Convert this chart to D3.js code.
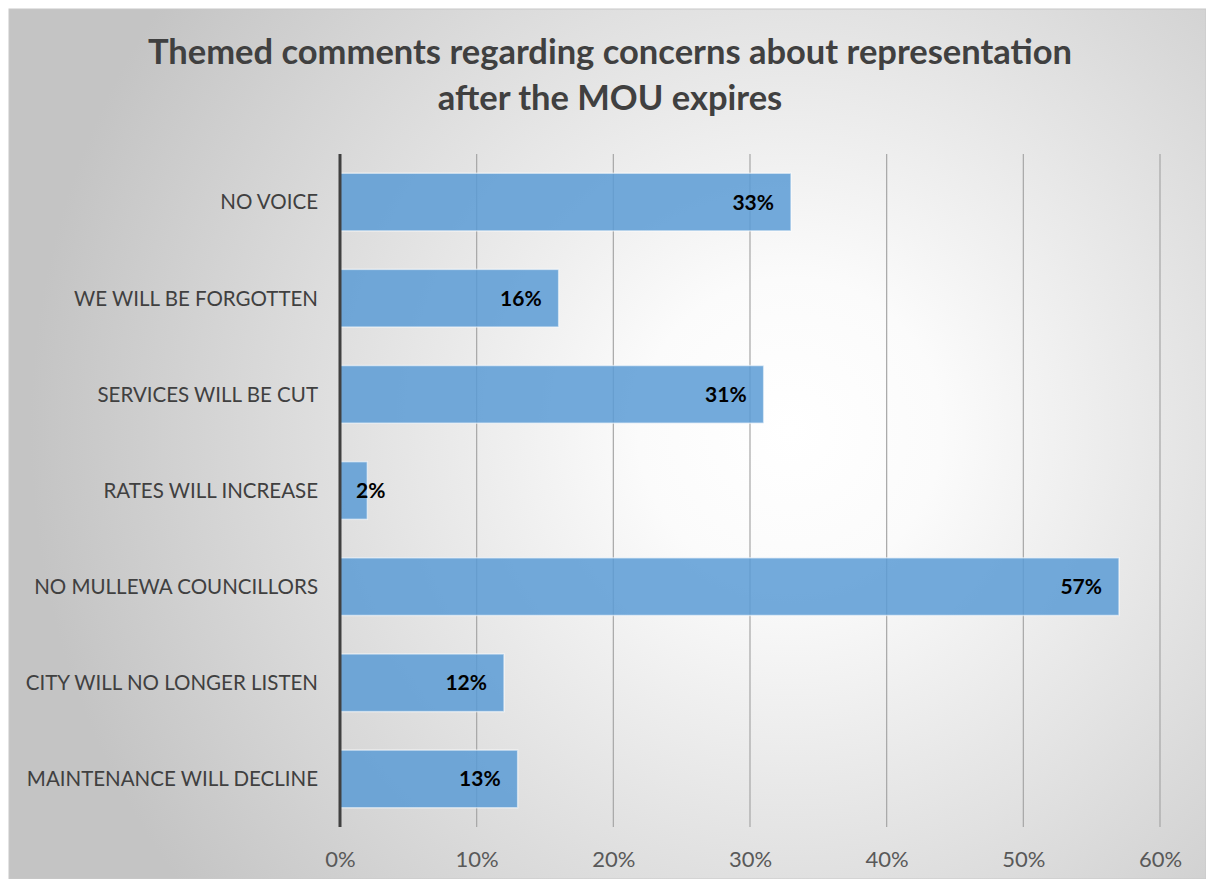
<!DOCTYPE html>
<html>
<head>
<meta charset="utf-8">
<script src="https://cdn.jsdelivr.net/npm/d3@7"></script>
<style>
  html, body { margin: 0; padding: 0; background: #ffffff; }
  svg { display: block; }
</style>
</head>
<body>
<div id="chart"></div>
<script>
// Chart data
const titleLines = ["Themed comments regarding concerns about representation", "after the MOU expires"];
const categories = [
  "NO VOICE",
  "WE WILL BE FORGOTTEN",
  "SERVICES WILL BE CUT",
  "RATES WILL INCREASE",
  "NO MULLEWA COUNCILLORS",
  "CITY WILL NO LONGER LISTEN",
  "MAINTENANCE WILL DECLINE"
];
const shares = [0.33, 0.16, 0.31, 0.02, 0.57, 0.12, 0.13];
const tickValues = [0, 0.1, 0.2, 0.3, 0.4, 0.5, 0.6];

const W = 1206, H = 879;
const frame = { x: 9, y: 9, w: 1206 - 9, h: 879 - 9 };
const plot = { left: 340, right: 1160, top: 154, bottom: 827 };
const fontFamily = "Lato, 'Open Sans', sans-serif";

const svg = d3.select("#chart").append("svg")
  .attr("width", W).attr("height", H);

// Radial background of the chart frame
const defs = svg.append("defs");
const grad = defs.append("radialGradient")
  .attr("id", "bg")
  .attr("gradientUnits", "userSpaceOnUse")
  .attr("cx", 790).attr("cy", 430).attr("r", 760);
grad.append("stop").attr("offset", "0").attr("stop-color", "#ffffff");
grad.append("stop").attr("offset", "0.2").attr("stop-color", "#fbfbfb");
grad.append("stop").attr("offset", "1").attr("stop-color", "#c4c4c4");

svg.append("rect")
  .attr("x", frame.x).attr("y", frame.y)
  .attr("width", frame.w).attr("height", frame.h)
  .attr("fill", "url(#bg)")
  .attr("stroke", "#c8c8c8").attr("stroke-width", 1);

// Title
svg.append("text")
  .attr("x", 610).attr("y", 64)
  .attr("text-anchor", "middle")
  .attr("font-family", fontFamily)
  .attr("font-weight", 700)
  .attr("font-size", 34.5)
  .attr("fill", "#404040")
  .selectAll("tspan")
  .data(titleLines)
  .join("tspan")
  .attr("x", 610)
  .attr("dy", (d, i) => i === 0 ? 0 : 46)
  .text(d => d);

// Scales
const x = d3.scaleLinear().domain([0, 0.6]).range([plot.left, plot.right]);
const y = d3.scaleBand().domain(categories).range([plot.top, plot.bottom])
  .paddingInner(0.4).paddingOuter(0.2);

// Vertical gridlines
svg.append("g")
  .selectAll("line")
  .data(tickValues.filter(v => v > 0))
  .join("line")
  .attr("x1", d => x(d)).attr("x2", d => x(d))
  .attr("y1", plot.top).attr("y2", plot.bottom)
  .attr("stroke", "#a6a6a6").attr("stroke-width", 1.2);

// X tick labels
const xAxis = d3.axisBottom(x).tickValues(tickValues).tickFormat(d3.format(".0%")).tickSize(0).tickPadding(0);
const xg = svg.append("g").attr("transform", `translate(0, ${plot.bottom})`).call(xAxis);
xg.select(".domain").remove();
xg.selectAll("text")
  .attr("y", 40).attr("dy", 0)
  .attr("font-family", fontFamily)
  .attr("font-size", 22)
  .attr("fill", "#595959");

// Bars
const series = categories.map((c, i) => ({ cat: c, v: shares[i] }));
svg.append("g")
  .selectAll("rect")
  .data(series)
  .join("rect")
  .attr("x", x(0))
  .attr("y", d => y(d.cat))
  .attr("width", d => x(d.v) - x(0))
  .attr("height", y.bandwidth())
  .attr("fill", "#5b9bd5")
  .attr("fill-opacity", 0.85)
  .attr("stroke", "#ffffff")
  .attr("stroke-opacity", 0.55)
  .attr("stroke-width", 1.5);

// Category axis
const yAxis = d3.axisLeft(y).tickSize(0).tickPadding(22);
const yg = svg.append("g").attr("transform", `translate(${plot.left}, 0)`).call(yAxis);
yg.select(".domain").remove();
yg.selectAll("text")
  .attr("font-family", fontFamily)
  .attr("font-size", 20.5)
  .attr("fill", "#404040")
  .attr("dy", "0.36em");

svg.append("line")
  .attr("x1", plot.left).attr("x2", plot.left)
  .attr("y1", plot.top).attr("y2", plot.bottom)
  .attr("stroke", "#404040").attr("stroke-width", 3);

// Value labels at the inside end of each bar
const fmt = d3.format(".0%");
const labels = svg.append("g")
  .selectAll("text")
  .data(series)
  .join("text")
  .attr("y", d => y(d.cat) + y.bandwidth() / 2)
  .attr("dy", "0.36em")
  .attr("text-anchor", "end")
  .attr("font-family", fontFamily)
  .attr("font-weight", 700)
  .attr("font-size", 21)
  .attr("fill", "#000000")
  .text(d => fmt(d.v));
labels.each(function(d) {
  const w = this.getComputedTextLength();
  const xEnd = Math.max(x(d.v) - 17, x(0) + 16 + w);
  d3.select(this).attr("x", xEnd);
});
</script>
</body>
</html>
